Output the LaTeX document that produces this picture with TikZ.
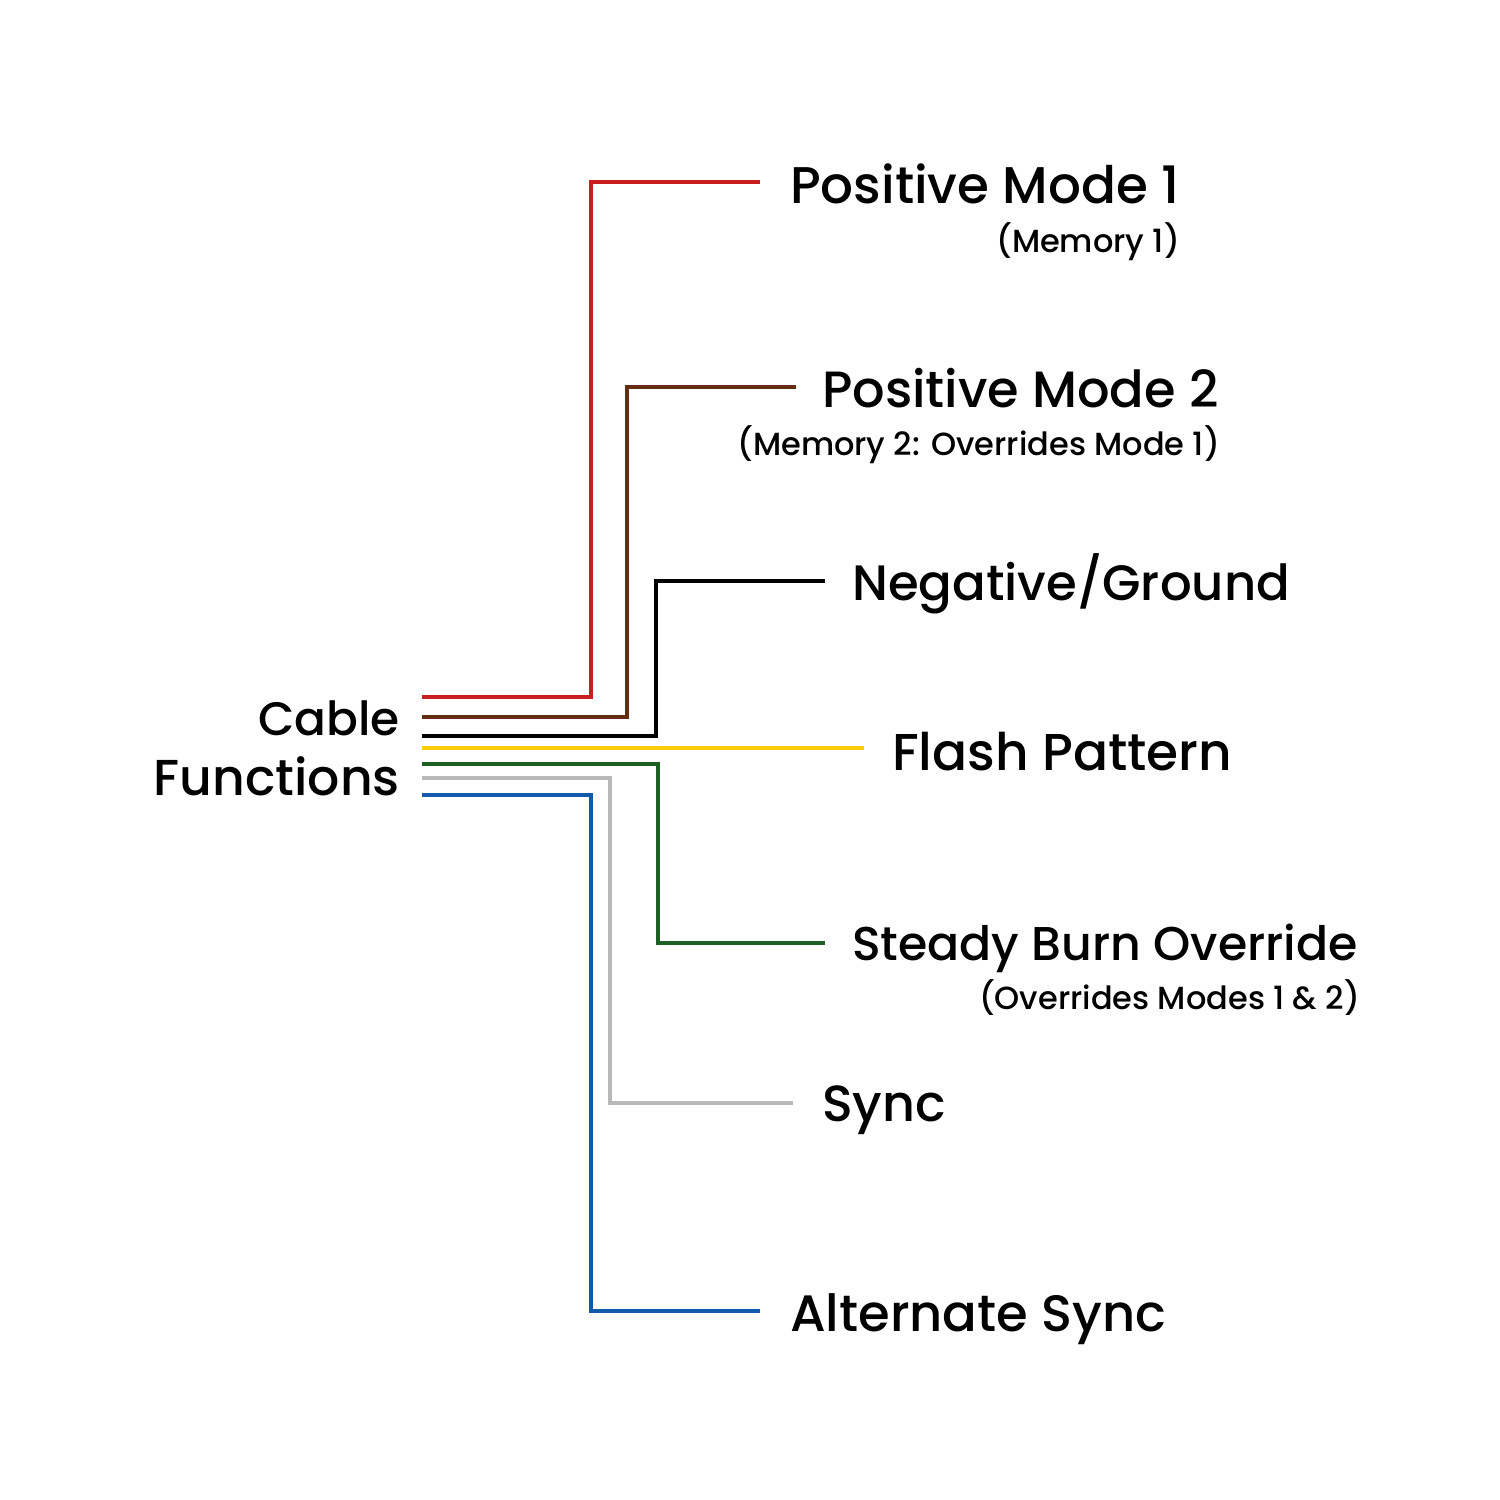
\documentclass[tikz,border=0pt]{standalone}
\usepackage{fontspec}
\setmainfont{Poppins}[UprightFont=* Medium]
\definecolor{wred}{RGB}{200,30,30}
\definecolor{wbrown}{RGB}{100,45,15}
\definecolor{wblack}{RGB}{0,0,0}
\definecolor{wyellow}{RGB}{250,205,10}
\definecolor{wgreen}{RGB}{30,95,35}
\definecolor{wgray}{RGB}{185,185,185}
\definecolor{wblue}{RGB}{20,90,170}
\tikzset{
  wire/.style={line width=4pt},
  fs/.style={font=\fontsize{#1}{#1}\selectfont},
  big/.style={inner sep=0pt, anchor=base west, fs=#1},
  big/.default=51,
  small/.style={inner sep=0pt, anchor=base east, fs=32},
  cab/.style={inner sep=0pt, anchor=base east, fs=#1},
}
\begin{document}
\begin{tikzpicture}[x=1pt,y=-1pt]
\useasboundingbox (0,0) rectangle (1500,1500);
% labels
\node[cab=47] (cable) at (400,735) {Cable};
\node[cab=50.5] (functions) at (400,795) {Functions};
\node[big=51.6] (pm1) at (790,203) {Positive Mode 1};
\node[small] (mem1) at (1180,252) {(Memory 1)};
\node[big=51] (pm2) at (822,407) {Positive Mode 2};
\node[small] (mem2) at (1220,455) {(Memory 2: Overrides Mode 1)};
\node[big=49.7] (neg) at (852,600) {Negative/Ground};
\node[big=51.8] (flash) at (892,770) {Flash Pattern};
\node[big=47.4] (steady) at (852,960) {Steady Burn Override};
\node[small] (ovr) at (1360,1009) {(Overrides Modes 1 \& 2)};
\node[big=50.8] (sync) at (822,1121) {Sync};
\node[big=51.2] (alt) at (790,1331) {Alternate Sync};
% wire ends
\coordinate (r0) at (422,697); \coordinate (r1) at (760,182);
\coordinate (b0) at (422,717); \coordinate (b1) at (796,387);
\coordinate (k0) at (422,736); \coordinate (k1) at (825,581);
\coordinate (y0) at (422,748); \coordinate (y1) at (864,748);
\coordinate (g0) at (422,764); \coordinate (g1) at (825,943);
\coordinate (s0) at (422,778); \coordinate (s1) at (793,1103);
\coordinate (u0) at (422,795); \coordinate (u1) at (760,1311);
% wires
\draw[wire,wred]    (r0) -| (591,182) -- (r1);
\draw[wire,wbrown]  (b0) -| (627,387) -- (b1);
\draw[wire,wblack]  (k0) -| (656,581) -- (k1);
\draw[wire,wyellow] (y0) -- (y1);
\draw[wire,wgreen]  (g0) -| (658,943) -- (g1);
\draw[wire,wgray]   (s0) -| (610,1103) -- (s1);
\draw[wire,wblue]   (u0) -| (591,1311) -- (u1);
\end{tikzpicture}
\end{document}
